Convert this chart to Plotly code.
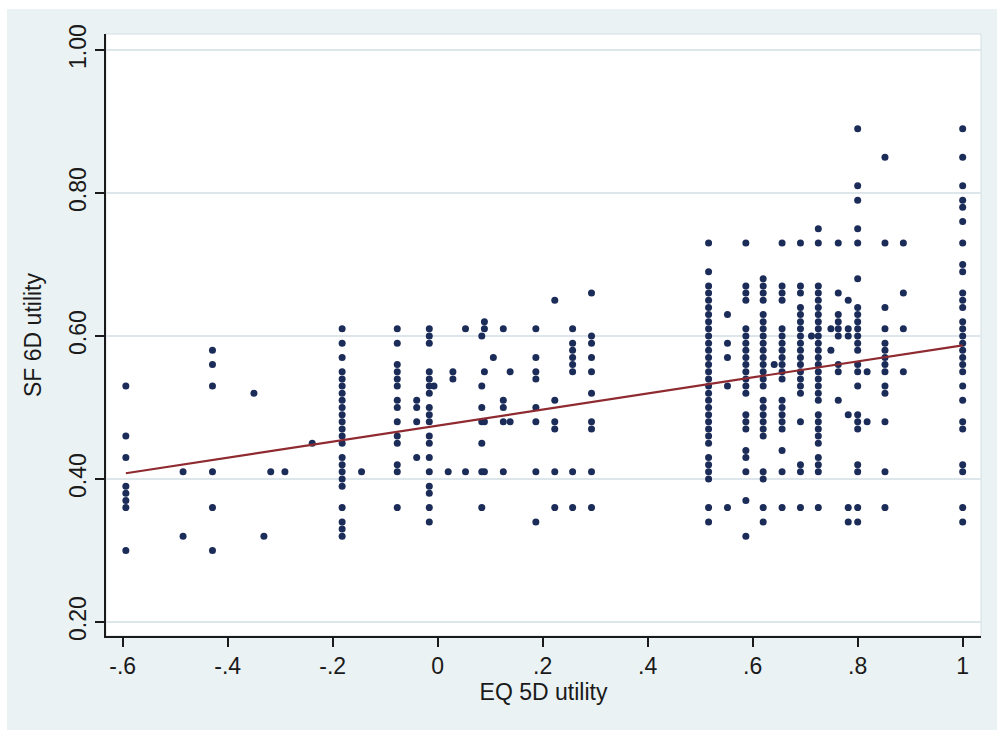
import plotly.graph_objects as go

# EQ-5D utility levels (x) and the SF-6D utilities observed at each level (y)
col_m0594 = [0.53, 0.46, 0.43, 0.39, 0.38, 0.37, 0.36, 0.30]
col_m0485 = [0.41, 0.32]
col_m0429 = [0.58, 0.56, 0.53, 0.41, 0.36, 0.30]
col_m0350 = [0.52]
col_m0331 = [0.32]
col_m0318 = [0.41]
col_m0291 = [0.41]
col_m0239 = [0.45]
col_m0182 = [0.61, 0.59, 0.57, 0.55, 0.54, 0.53, 0.52, 0.51, 0.50, 0.49, 0.48, 0.47,
             0.46, 0.45, 0.43, 0.42, 0.41, 0.40, 0.39, 0.36, 0.34, 0.33, 0.32]
col_m0145 = [0.41]
col_m0077 = [0.61, 0.59, 0.56, 0.55, 0.54, 0.53, 0.51, 0.50, 0.48, 0.46, 0.45, 0.42, 0.41, 0.36]
col_m0040 = [0.51, 0.50, 0.48, 0.43]
col_m0016 = [0.61, 0.60, 0.59, 0.55, 0.54, 0.53, 0.52, 0.50, 0.49, 0.48, 0.46, 0.45,
             0.43, 0.41, 0.39, 0.38, 0.36, 0.34]
col_m0007 = [0.53]
col_p0020 = [0.41]
col_p0029 = [0.55, 0.54]
col_p0053 = [0.61, 0.41]
col_p0084 = [0.60, 0.53, 0.50, 0.48, 0.45, 0.41, 0.36]
col_p0089 = [0.62, 0.61, 0.55, 0.48, 0.41]
col_p0106 = [0.57]
col_p0125 = [0.61, 0.51, 0.50, 0.48, 0.41]
col_p0138 = [0.55, 0.48]
col_p0187 = [0.61, 0.57, 0.55, 0.54, 0.50, 0.48, 0.41, 0.34]
col_p0223 = [0.65, 0.51, 0.48, 0.47, 0.41, 0.36]
col_p0257 = [0.61, 0.59, 0.58, 0.57, 0.56, 0.55, 0.41, 0.36]
col_p0293 = [0.66, 0.60, 0.59, 0.57, 0.55, 0.52, 0.48, 0.47, 0.41, 0.36]
col_p0516 = [0.73, 0.69, 0.67, 0.66, 0.65, 0.64, 0.63, 0.62, 0.61, 0.60, 0.59, 0.58,
             0.57, 0.56, 0.55, 0.54, 0.53, 0.52, 0.51, 0.50, 0.49, 0.48, 0.47, 0.46,
             0.45, 0.43, 0.42, 0.41, 0.40, 0.36, 0.34]
col_p0552 = [0.63, 0.59, 0.57, 0.53, 0.36]
col_p0587 = [0.73, 0.67, 0.66, 0.65, 0.61, 0.60, 0.59, 0.58, 0.57, 0.56, 0.55, 0.54,
             0.53, 0.52, 0.49, 0.48, 0.47, 0.44, 0.43, 0.41, 0.37, 0.32]
col_p0620 = [0.68, 0.67, 0.66, 0.65, 0.63, 0.62, 0.61, 0.60, 0.59, 0.58, 0.57, 0.56,
             0.55, 0.54, 0.53, 0.51, 0.50, 0.49, 0.48, 0.47, 0.46, 0.41, 0.40, 0.36, 0.34]
col_p0641 = [0.56]
col_p0656 = [0.73, 0.67, 0.66, 0.65, 0.61, 0.60, 0.59, 0.58, 0.57, 0.56, 0.55, 0.54,
             0.51, 0.50, 0.49, 0.48, 0.47, 0.44, 0.41, 0.36]
col_p0691 = [0.73, 0.67, 0.66, 0.64, 0.63, 0.62, 0.61, 0.60, 0.59, 0.58, 0.57, 0.56,
             0.55, 0.54, 0.53, 0.52, 0.48, 0.42, 0.41, 0.36]
col_p0712 = [0.60]
col_p0725 = [0.75, 0.73, 0.67, 0.66, 0.65, 0.64, 0.63, 0.62, 0.61, 0.60, 0.59, 0.58,
             0.57, 0.56, 0.55, 0.54, 0.53, 0.52, 0.51, 0.49, 0.48, 0.47, 0.46, 0.45,
             0.43, 0.42, 0.41, 0.36]
col_p0749 = [0.61, 0.58]
col_p0763 = [0.73, 0.66, 0.63, 0.62, 0.61, 0.60, 0.56, 0.55, 0.51]
col_p0782 = [0.65, 0.61, 0.60, 0.49, 0.36, 0.34]
col_p0800 = [0.89, 0.81, 0.79, 0.75, 0.73, 0.68, 0.64, 0.63, 0.62, 0.61, 0.60, 0.59,
             0.58, 0.56, 0.55, 0.53, 0.49, 0.48, 0.47, 0.42, 0.41, 0.36, 0.34]
col_p0818 = [0.55, 0.48]
col_p0852 = [0.85, 0.73, 0.64, 0.61, 0.59, 0.58, 0.57, 0.56, 0.55, 0.53, 0.52, 0.48, 0.41, 0.36]
col_p0887 = [0.73, 0.66, 0.61, 0.55]
col_p1000 = [0.89, 0.85, 0.81, 0.79, 0.78, 0.76, 0.73, 0.70, 0.69, 0.66, 0.65, 0.64,
             0.62, 0.61, 0.60, 0.59, 0.58, 0.57, 0.56, 0.55, 0.53, 0.51, 0.48, 0.47,
             0.42, 0.41, 0.36, 0.34]

eq5d_levels = [-0.594, -0.485, -0.429, -0.350, -0.331, -0.318, -0.291, -0.239, -0.182,
               -0.145, -0.077, -0.040, -0.016, -0.007, 0.020, 0.029, 0.053, 0.084,
               0.089, 0.106, 0.125, 0.138, 0.187, 0.223, 0.257, 0.293, 0.516, 0.552,
               0.587, 0.620, 0.641, 0.656, 0.691, 0.712, 0.725, 0.749, 0.763, 0.782,
               0.800, 0.818, 0.852, 0.887, 1.000]
sf6d_columns = [col_m0594, col_m0485, col_m0429, col_m0350, col_m0331, col_m0318,
                col_m0291, col_m0239, col_m0182, col_m0145, col_m0077, col_m0040,
                col_m0016, col_m0007, col_p0020, col_p0029, col_p0053, col_p0084,
                col_p0089, col_p0106, col_p0125, col_p0138, col_p0187, col_p0223,
                col_p0257, col_p0293, col_p0516, col_p0552, col_p0587, col_p0620,
                col_p0641, col_p0656, col_p0691, col_p0712, col_p0725, col_p0749,
                col_p0763, col_p0782, col_p0800, col_p0818, col_p0852, col_p0887,
                col_p1000]

# Fitted values (linear fit) endpoints
fit_x = [-0.594, 1.0]
fit_y = [0.408, 0.587]

x_tickvals = [-0.6, -0.4, -0.2, 0, 0.2, 0.4, 0.6, 0.8, 1.0]
x_ticktext = ["-.6", "-.4", "-.2", "0", ".2", ".4", ".6", ".8", "1"]
y_tickvals = [0.2, 0.4, 0.6, 0.8, 1.0]
y_ticktext = ["0.20", "0.40", "0.60", "0.80", "1.00"]

xs, ys = [], []
for xv, col in zip(eq5d_levels, sf6d_columns):
    for yv in col:
        xs.append(xv)
        ys.append(yv)

FONT = "Liberation Sans, Arial, sans-serif"
W, H = 997, 730
ML, MR, MT, MB = 106, 16, 34, 94
PW, PH = W - ML - MR, H - MT - MB

fig = go.Figure()
fig.add_trace(go.Scatter(x=xs, y=ys, mode="markers",
                         marker=dict(color="#1b2c58", size=7, line=dict(width=0)),
                         showlegend=False, hoverinfo="x+y"))
fig.add_trace(go.Scatter(x=fit_x, y=fit_y, mode="lines",
                         line=dict(color="#8e2a30", width=2.2),
                         showlegend=False))

def px_x(p):
    return (p - ML) / PW

def px_y(p):
    return (H - MB - p) / PH

shapes = [
    # light frame of the plot region
    dict(type="rect", xref="paper", yref="paper", x0=0, x1=1, y0=0, y1=1,
         line=dict(color="#d3dde2", width=1), fillcolor="rgba(0,0,0,0)", layer="below"),
    # white strips at the top and left of the picture
    dict(type="rect", xref="paper", yref="paper", x0=px_x(-5), x1=px_x(W + 5),
         y0=px_y(9), y1=px_y(-5), line=dict(width=0), fillcolor="white", layer="above"),
    dict(type="rect", xref="paper", yref="paper", x0=px_x(-5), x1=px_x(7),
         y0=px_y(H + 5), y1=px_y(-5), line=dict(width=0), fillcolor="white", layer="above"),
]

fig.update_layout(
    width=W, height=H,
    margin=dict(l=ML, r=MR, t=MT, b=MB, pad=0),
    paper_bgcolor="#eaf2f3",
    plot_bgcolor="white",
    font=dict(family=FONT, size=23, color="#1a1a1a"),
    showlegend=False,
    shapes=shapes,
    xaxis=dict(
        range=[-0.6318, 1.0349],
        tickvals=x_tickvals, ticktext=x_ticktext,
        ticks="outside", ticklen=9, tickwidth=1.5, tickcolor="#1a1a1a",
        showline=True, linecolor="#1a1a1a", linewidth=1.5,
        showgrid=False, zeroline=False,
        tickfont=dict(size=23),
        title=dict(text="EQ 5D utility", font=dict(size=23), standoff=4),
    ),
    yaxis=dict(
        range=[0.1804, 1.0224],
        tickvals=y_tickvals, ticktext=y_ticktext, tickangle=-90,
        ticks="outside", ticklen=9, tickwidth=1.5, tickcolor="#1a1a1a",
        showline=True, linecolor="#1a1a1a", linewidth=1.5,
        showgrid=True, gridcolor="#dde7eb", gridwidth=1.5, zeroline=False,
        tickfont=dict(size=23),
        title=dict(text="SF 6D utility", font=dict(size=23), standoff=17),
    ),
)

fig.write_html("out.html")
